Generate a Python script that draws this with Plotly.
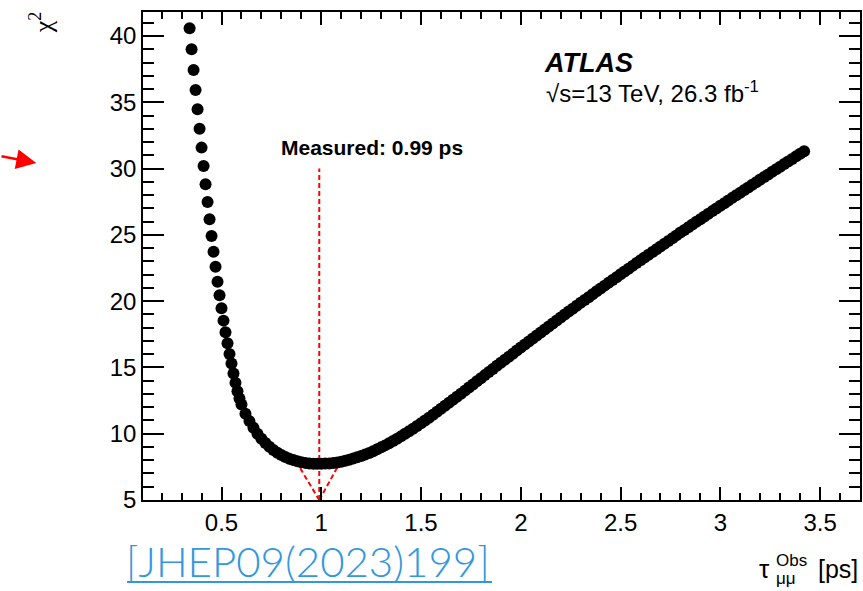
import plotly.graph_objects as go

# ---- data ----
tau_obs = [0.34, 0.35, 0.36, 0.37, 0.38, 0.39, 0.40, 0.41, 0.42, 0.43, 0.44, 0.45,
           0.46, 0.47, 0.48, 0.49, 0.50, 0.51, 0.52, 0.53, 0.54, 0.55, 0.56, 0.57,
           0.58, 0.59, 0.60, 0.62, 0.64, 0.66, 0.68, 0.70, 0.72, 0.74, 0.76, 0.78,
           0.80, 0.82, 0.84, 0.86, 0.88, 0.90, 0.92, 0.94, 0.96, 0.98, 1.00, 1.02,
           1.04, 1.06, 1.08, 1.10, 1.12, 1.14, 1.16, 1.18, 1.20, 1.22, 1.24, 1.26,
           1.28, 1.30, 1.32, 1.34, 1.36, 1.38, 1.40, 1.42, 1.44, 1.46, 1.48, 1.50,
           1.52, 1.54, 1.56, 1.58, 1.60, 1.62, 1.64, 1.66, 1.68, 1.70, 1.72, 1.74,
           1.76, 1.78, 1.80, 1.82, 1.84, 1.86, 1.88, 1.90, 1.92, 1.94, 1.96, 1.98,
           2.00, 2.02, 2.04, 2.06, 2.08, 2.10, 2.12, 2.14, 2.16, 2.18, 2.20, 2.22,
           2.24, 2.26, 2.28, 2.30, 2.32, 2.34, 2.36, 2.38, 2.40, 2.42, 2.44, 2.46,
           2.48, 2.50, 2.52, 2.54, 2.56, 2.58, 2.60, 2.62, 2.64, 2.66, 2.68, 2.70,
           2.72, 2.74, 2.76, 2.78, 2.80, 2.82, 2.84, 2.86, 2.88, 2.90, 2.92, 2.94,
           2.96, 2.98, 3.00, 3.02, 3.04, 3.06, 3.08, 3.10, 3.12, 3.14, 3.16, 3.18,
           3.20, 3.22, 3.24, 3.26, 3.28, 3.30, 3.32, 3.34, 3.36, 3.38, 3.40, 3.42]
chi2 = [40.58, 39.00, 37.44, 35.93, 34.47, 33.01, 31.58, 30.19, 28.81, 27.48, 26.17, 24.91,
        23.73, 22.60, 21.47, 20.44, 19.46, 18.53, 17.65, 16.82, 16.01, 15.30, 14.55, 13.85,
        13.20, 12.65, 12.20, 11.50, 10.95, 10.45, 10.00, 9.62, 9.30, 9.02, 8.78, 8.57,
        8.40, 8.25, 8.12, 8.01, 7.92, 7.85, 7.80, 7.76, 7.74, 7.73, 7.74, 7.75,
        7.76, 7.79, 7.83, 7.89, 7.96, 8.04, 8.13, 8.22, 8.32, 8.43, 8.55, 8.68,
        8.82, 8.97, 9.12, 9.28, 9.45, 9.62, 9.80, 9.99, 10.18, 10.38, 10.58, 10.79,
        11.00, 11.21, 11.43, 11.65, 11.88, 12.11, 12.34, 12.57, 12.79, 13.02, 13.25, 13.49,
        13.72, 13.95, 14.19, 14.42, 14.65, 14.89, 15.12, 15.35, 15.58, 15.81, 16.04, 16.27,
        16.50, 16.73, 16.96, 17.19, 17.41, 17.64, 17.86, 18.09, 18.31, 18.54, 18.77, 18.99,
        19.21, 19.43, 19.65, 19.87, 20.08, 20.30, 20.52, 20.74, 20.96, 21.17, 21.39, 21.60,
        21.81, 22.03, 22.24, 22.45, 22.66, 22.87, 23.09, 23.30, 23.50, 23.71, 23.92, 24.13,
        24.33, 24.54, 24.75, 24.96, 25.17, 25.37, 25.58, 25.78, 25.98, 26.18, 26.39, 26.59,
        26.79, 26.99, 27.20, 27.39, 27.59, 27.79, 27.99, 28.18, 28.38, 28.58, 28.78, 28.97,
        29.17, 29.37, 29.56, 29.76, 29.95, 30.14, 30.34, 30.53, 30.73, 30.92, 31.11, 31.30]

measured_tau = 0.99
measured_line_y = [5.0, 30.0]
err_left_x = [0.99, 0.87]
err_right_x = [0.99, 1.10]
err_y = [5.0, 8.0]

x_range = [0.1065, 3.70]
y_range = [5.0, 41.81]

W, H = 863, 591
ML, MR, MT, MB = 143, 1, 12, 91
PW, PH = W - ML - MR, H - MT - MB


def px(xp):
    return (xp - ML) / PW


def py(yp):
    return (H - MB - yp) / PH


RED = "#ff0000"
SANS = "Liberation Sans, Arial, sans-serif"

fig = go.Figure()

dash = "5px,3px"
fig.add_trace(go.Scatter(x=[measured_tau, measured_tau], y=measured_line_y, mode="lines",
                         line=dict(color=RED, width=2, dash=dash), showlegend=False,
                         hoverinfo="skip"))
fig.add_trace(go.Scatter(x=err_left_x, y=err_y, mode="lines",
                         line=dict(color=RED, width=2, dash=dash), showlegend=False,
                         hoverinfo="skip"))
fig.add_trace(go.Scatter(x=err_right_x, y=err_y, mode="lines",
                         line=dict(color=RED, width=2, dash=dash), showlegend=False,
                         hoverinfo="skip"))
fig.add_trace(go.Scatter(x=tau_obs, y=chi2, mode="markers",
                         marker=dict(color="black", size=12, line=dict(width=0)),
                         showlegend=False))

axis_common = dict(
    showline=True, linecolor="black", linewidth=1.5, mirror="allticks",
    showgrid=False, zeroline=False, ticks="inside", tickcolor="black",
    tickwidth=1.5, tickfont=dict(family=SANS, size=24, color="black"),
)

fig.update_xaxes(range=x_range, dtick=0.5, tick0=0.5, ticklen=13,
                 minor=dict(ticks="inside", ticklen=7, dtick=0.1, tick0=0.0,
                            tickcolor="black", tickwidth=1.5, showgrid=False),
                 **axis_common)
fig.update_yaxes(range=y_range, dtick=5, tick0=5, ticklen=21,
                 minor=dict(ticks="inside", ticklen=11, dtick=1, tick0=5,
                            tickcolor="black", tickwidth=1.5, showgrid=False),
                 **axis_common)

ann = []
# y-axis title
ann.append(dict(x=px(42), y=py(22), xref="paper", yref="paper", text="χ<sup>2</sup>",
                showarrow=False, textangle=-90, xanchor="center", yanchor="middle",
                font=dict(family="Liberation Serif, serif", size=26, color="black")))
# ATLAS label
ann.append(dict(x=px(543), y=py(63), xref="paper", yref="paper", text="<b><i>ATLAS</i></b>",
                showarrow=False, xanchor="left", yanchor="middle",
                font=dict(family=SANS, size=27, color="black")))
ann.append(dict(x=px(545), y=py(92), xref="paper", yref="paper",
                text="√s=13 TeV, 26.3 fb<sup>-1</sup>",
                showarrow=False, xanchor="left", yanchor="middle",
                font=dict(family=SANS, size=24, color="black")))
# measured label
ann.append(dict(x=px(373), y=py(147), xref="paper", yref="paper",
                text="<b>Measured: 0.99 ps</b>",
                showarrow=False, xanchor="center", yanchor="middle",
                font=dict(family=SANS, size=21, color="black")))
# x-axis title pieces
ann.append(dict(x=px(766), y=py(569), xref="paper", yref="paper", text="τ",
                showarrow=False, xanchor="center", yanchor="middle",
                font=dict(family=SANS, size=26, color="black")))
ann.append(dict(x=px(776), y=py(560), xref="paper", yref="paper", text="Obs",
                showarrow=False, xanchor="left", yanchor="middle",
                font=dict(family=SANS, size=17, color="black")))
ann.append(dict(x=px(776), y=py(578), xref="paper", yref="paper", text="μμ",
                showarrow=False, xanchor="left", yanchor="middle",
                font=dict(family=SANS, size=17, color="black")))
ann.append(dict(x=px(862), y=py(569), xref="paper", yref="paper", text="[ps]",
                showarrow=False, xanchor="right", yanchor="middle",
                font=dict(family=SANS, size=25, color="black")))
# reference link
ann.append(dict(x=px(124), y=py(561), xref="paper", yref="paper",
                text="[JHEP09(2023)199]",
                showarrow=False, xanchor="left", yanchor="middle",
                font=dict(family="Lato, sans-serif", size=42, color="#3398db", weight=300)))
# red arrow
ann.append(dict(x=px(36), y=py(163), xref="paper", yref="paper", text="",
                showarrow=True, ax=-40, ay=-7, arrowcolor=RED, arrowwidth=2.5,
                arrowhead=2, arrowsize=1.6, standoff=0, startstandoff=0))

fig.update_layout(
    width=W, height=H, margin=dict(l=ML, r=MR, t=MT, b=MB, pad=0),
    plot_bgcolor="white", paper_bgcolor="white",
    annotations=ann,
    shapes=[dict(type="line", xref="paper", yref="paper",
                 x0=px(127), x1=px(493), y0=py(582), y1=py(582),
                 line=dict(color="#3398db", width=2))],
)

fig.write_html("out.html")
